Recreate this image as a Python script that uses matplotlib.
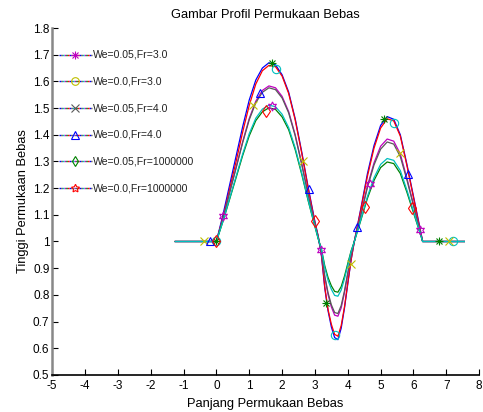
import matplotlib
matplotlib.use("Agg")
import matplotlib.pyplot as plt
from matplotlib.ticker import FuncFormatter

plt.rcParams['font.family'] = ['Liberation Sans', 'DejaVu Sans']
plt.rcParams['axes.unicode_minus'] = False

# posisi sepanjang permukaan (sama untuk semua kurva)
x_pos = [-1.25, 0.0, 0.2, 0.4, 0.6, 0.8, 1.0, 1.2, 1.4, 1.6, 1.8, 2.0, 2.2, 2.4, 2.6, 2.8, 3.0,
         3.1, 3.2, 3.3, 3.4, 3.5, 3.6, 3.7, 3.8, 3.9, 4.0, 4.1, 4.2,
         4.4, 4.6, 4.8, 5.0, 5.2, 5.4, 5.6, 5.8, 6.0, 6.2, 6.28, 7.55]

y_blue = [1.0, 1.0, 1.10, 1.21, 1.32, 1.43, 1.53, 1.605, 1.65, 1.670, 1.662, 1.625, 1.56, 1.46, 1.335, 1.20, 1.075,
          1.02, 0.945, 0.825, 0.74, 0.68, 0.64, 0.632, 0.675, 0.75, 0.84, 0.93, 1.0,
          1.125, 1.255, 1.36, 1.435, 1.468, 1.458, 1.40, 1.29, 1.17, 1.05, 1.0, 1.0]
y_red = [1.0, 1.0, 1.09, 1.195, 1.30, 1.41, 1.51, 1.59, 1.64, 1.660, 1.655, 1.62, 1.555, 1.455, 1.33, 1.195, 1.07,
         1.02, 0.95, 0.83, 0.745, 0.69, 0.652, 0.645, 0.685, 0.755, 0.845, 0.93, 1.0,
         1.12, 1.245, 1.35, 1.425, 1.46, 1.452, 1.395, 1.285, 1.165, 1.045, 1.0, 1.0]
y_magenta = [1.0, 1.0, 1.087, 1.183, 1.278, 1.374, 1.461, 1.526, 1.566, 1.583, 1.576, 1.544, 1.487, 1.400, 1.291, 1.174, 1.065,
             1.015, 0.958, 0.866, 0.801, 0.755, 0.724, 0.72, 0.751, 0.808, 0.877, 0.946, 1.0,
             1.103, 1.209, 1.295, 1.357, 1.384, 1.376, 1.328, 1.238, 1.139, 1.041, 1.0, 1.0]
y_gray = [1.0, 1.0, 1.086, 1.181, 1.275, 1.370, 1.456, 1.520, 1.559, 1.576, 1.569, 1.538, 1.482, 1.396, 1.288, 1.172, 1.065,
          1.015, 0.959, 0.87, 0.808, 0.763, 0.734, 0.73, 0.76, 0.815, 0.882, 0.948, 1.0,
          1.100, 1.203, 1.287, 1.346, 1.373, 1.365, 1.318, 1.231, 1.135, 1.040, 1.0, 1.0]
y_green = [1.0, 1.0, 1.075, 1.157, 1.239, 1.322, 1.396, 1.453, 1.486, 1.501, 1.495, 1.467, 1.419, 1.344, 1.251, 1.150, 1.056,
           1.01, 0.971, 0.909, 0.865, 0.834, 0.813, 0.81, 0.831, 0.87, 0.917, 0.964, 1.0,
           1.080, 1.162, 1.229, 1.277, 1.298, 1.292, 1.255, 1.185, 1.108, 1.032, 1.0, 1.0]
y_cyan = [1.0, 1.0, 1.076, 1.160, 1.244, 1.328, 1.404, 1.462, 1.496, 1.511, 1.505, 1.477, 1.427, 1.351, 1.256, 1.153, 1.057,
          1.011, 0.969, 0.902, 0.854, 0.821, 0.798, 0.795, 0.818, 0.86, 0.91, 0.961, 1.0,
          1.083, 1.169, 1.239, 1.289, 1.311, 1.304, 1.266, 1.193, 1.113, 1.033, 1.0, 1.0]

# titik penanda (marker) yang terlihat di kurva
mk_star_x = [0.0, 1.68, 3.35, 5.10, 6.79]
mk_star_y = [1.0, 1.668, 0.77, 1.458, 1.0]
mk_circ_x = [0.0, 1.82, 3.62, 5.40, 7.21]
mk_circ_y = [1.0, 1.645, 0.65, 1.443, 1.0]
mk_x_x = [-0.39, 1.12, 2.63, 4.11, 5.60, 7.09]
mk_x_y = [1.0, 1.51, 1.30, 0.915, 1.33, 1.0]
mk_tri_x = [-0.19, 1.32, 2.81, 4.27, 5.83]
mk_tri_y = [1.0, 1.555, 1.197, 1.055, 1.252]
mk_dia_x = [0.0, 1.50, 3.01, 4.52, 5.97]
mk_dia_y = [1.0, 1.49, 1.078, 1.13, 1.124]
mk_hex_x = [0.19, 1.68, 3.18, 4.69, 6.20]
mk_hex_y = [1.095, 1.508, 0.968, 1.214, 1.043]

labels = ['We=0.05,Fr=3.0', 'We=0.0,Fr=3.0', 'We=0.05,Fr=4.0',
          'We=0.0,Fr=4.0', 'We=0.05,Fr=1000000', 'We=0.0,Fr=1000000']

BLUE = (0, 0, 1)
GREEN = (0, 0.5, 0)
RED = (1, 0, 0)
CYAN = (0, 0.75, 0.75)
MAGENTA = (0.75, 0, 0.75)
YELLOW = (0.75, 0.75, 0)
GRAY = (0.35, 0.35, 0.35)


def draw_marker(ax, mx, my, kind, col, size=6, z=5):
    # gaya marker MATLAB: '*' = asterisk, 'h' = hexagram, 'p' = pentagram
    if kind == '*':
        parts = [('+', size), ('x', size * 0.75)]
    elif kind == 'h':
        parts = [((6, 1, 0), size * 1.1)]
    elif kind == 'p':
        parts = [((5, 1, 0), size * 1.1)]
    else:
        parts = [(kind, size)]
    for m, s in parts:
        ax.plot(mx, my, linestyle='none', marker=m, ms=s, mfc='none',
                mec=col, mew=0.8, zorder=z)


fig = plt.figure(figsize=(4.83, 4.12), dpi=100)
ax = fig.add_axes([0.108, 0.09, 0.884, 0.842])

curves = [(y_blue, BLUE), (y_red, RED), (y_magenta, MAGENTA),
          (y_gray, GRAY), (y_green, GREEN), (y_cyan, CYAN)]
for ys, col in curves:
    ax.plot(x_pos, ys, color=col, lw=0.9)

markers = [(mk_star_x, mk_star_y, '*', GREEN), (mk_circ_x, mk_circ_y, 'o', CYAN),
           (mk_x_x, mk_x_y, 'x', YELLOW), (mk_tri_x, mk_tri_y, '^', BLUE),
           (mk_dia_x, mk_dia_y, 'd', RED), (mk_hex_x, mk_hex_y, 'h', MAGENTA)]
for mx, my, m, col in markers:
    draw_marker(ax, mx, my, m, col)

# legenda manual di kiri atas, tanpa bingkai
leg_marks = [('*', MAGENTA), ('o', YELLOW), ('x', GRAY), ('^', BLUE), ('d', GREEN), ('p', RED)]
dash_cols = [BLUE, RED, GREEN, MAGENTA, CYAN, GRAY]
for i, lab in enumerate(labels):
    ly = 1.7 - 0.1 * i
    for k, col in enumerate(dash_cols):
        ax.plot([-4.78, -3.78], [ly, ly], color=col, lw=1.0,
                linestyle=(1.2 * k, (1.2, 6.0)), dash_capstyle='butt')
    draw_marker(ax, [-4.29], [ly], leg_marks[i][0], leg_marks[i][1], size=5.5, z=6)
    ax.text(-3.76, ly, lab, fontsize=7.6, va='center', ha='left', color='#222222')

ax.set_xlim(-5, 8)
ax.set_ylim(0.5, 1.8)
ax.set_xticks(range(-5, 9))
ax.set_yticks([0.5 + 0.1 * k for k in range(14)])
ax.yaxis.set_major_formatter(FuncFormatter(lambda v, p: '%g' % round(v, 1)))

ax.spines['top'].set_visible(False)
ax.spines['right'].set_visible(False)
ax.spines['left'].set_color('#888888')
ax.spines['left'].set_linewidth(1.8)
ax.spines['bottom'].set_linewidth(1.2)
ax.tick_params(direction='in', length=4, width=0.8, labelsize=8.5, pad=4, colors='black')
ax.tick_params(axis='y', pad=2)

ax.set_title('Gambar Profil Permukaan Bebas', fontsize=9.3, pad=7)
ax.set_xlabel('Panjang Permukaan Bebas', fontsize=9.3, labelpad=4)
ax.set_ylabel('Tinggi Permukaan Bebas', fontsize=9.3, labelpad=3)

fig.savefig('out.png', dpi=100)
